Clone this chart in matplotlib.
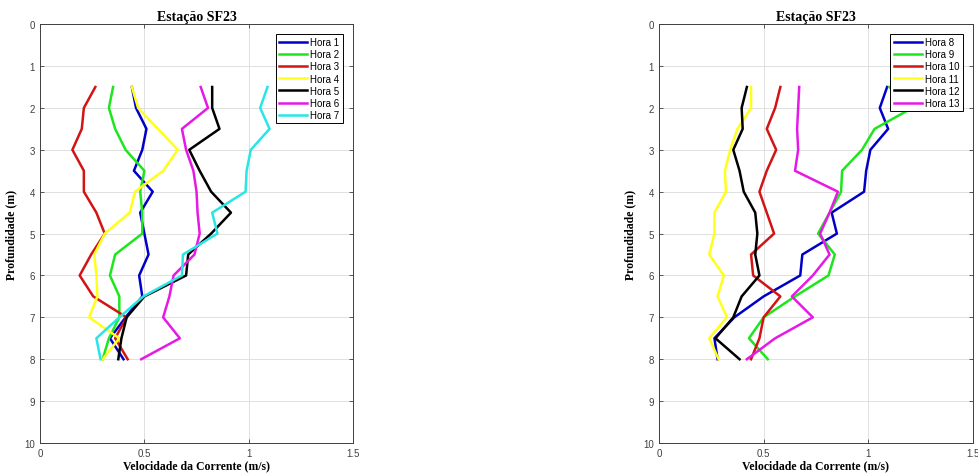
import numpy as np
import matplotlib.pyplot as plt

# profundidades (m)
prof = [1.5, 2.0, 2.5, 3.0, 3.5, 4.0, 4.5, 5.0, 5.5, 6.0, 6.5, 7.0, 7.5, 8.0]

# velocidades (m/s)
hora1 = [0.44, 0.46, 0.51, 0.49, 0.45, 0.54, 0.48, 0.50, 0.52, 0.475, 0.49, 0.41, 0.335, 0.40]
hora2 = [0.35, 0.33, 0.36, 0.41, 0.50, 0.48, 0.49, 0.49, 0.36, 0.335, 0.38, 0.38, 0.33, 0.30]
hora3 = [0.265, 0.21, 0.20, 0.155, 0.21, 0.21, 0.27, 0.31, 0.245, 0.19, 0.255, 0.415, 0.36, 0.42]
hora4 = [0.44, 0.47, 0.565, 0.66, 0.59, 0.455, 0.43, 0.31, 0.26, 0.27, 0.275, 0.235, 0.38, 0.30]
hora5 = [0.825, 0.825, 0.86, 0.715, 0.765, 0.82, 0.915, 0.82, 0.71, 0.70, 0.50, 0.415, 0.39, 0.375]
hora6 = [0.77, 0.805, 0.68, 0.70, 0.735, 0.75, 0.755, 0.765, 0.74, 0.64, 0.62, 0.59, 0.67, 0.485]
hora7 = [1.09, 1.055, 1.10, 1.01, 0.99, 0.985, 0.825, 0.85, 0.685, 0.68, 0.495, 0.38, 0.27, 0.29]

hora8 = [1.09, 1.055, 1.095, 1.01, 0.99, 0.98, 0.825, 0.85, 0.685, 0.675, 0.50, 0.36, 0.265, 0.28]
hora9 = [1.10, 1.21, 1.03, 0.97, 0.875, 0.87, 0.815, 0.76, 0.84, 0.81, 0.65, 0.50, 0.43, 0.52]
hora10 = [0.58, 0.555, 0.515, 0.56, 0.515, 0.48, 0.515, 0.55, 0.44, 0.45, 0.58, 0.50, 0.48, 0.44]
hora11 = [0.44, 0.44, 0.375, 0.34, 0.315, 0.32, 0.265, 0.265, 0.24, 0.31, 0.28, 0.325, 0.24, 0.285]
hora12 = [0.42, 0.395, 0.40, 0.355, 0.385, 0.405, 0.46, 0.47, 0.46, 0.48, 0.395, 0.355, 0.27, 0.385]
hora13 = [0.67, 0.665, 0.66, 0.665, 0.65, 0.855, 0.815, 0.77, 0.815, 0.735, 0.635, 0.735, 0.555, 0.42]

cores = ['#0000c8', '#1ee61e', '#d21414', '#ffff1e', '#000000', '#e619e6', '#28e6e6']

serif = 'Liberation Serif'
sans = 'Liberation Sans'


def painel(ax, series, nomes):
    for v, nome, c in zip(series, nomes, cores):
        ax.plot(v, prof, color=c, lw=1.8, label=nome)
    ax.set_xlim(0, 1.5)
    ax.set_ylim(10, 0)
    ax.set_xticks([0, 0.5, 1, 1.5])
    ax.set_xticklabels(['0', '0.5', '1', '1.5'])
    ax.set_yticks(range(11))
    ax.grid(True, color='#e0e0e0', lw=0.7)
    ax.set_axisbelow(True)
    ax.tick_params(direction='in', top=True, right=True, length=3,
                   labelsize=7, colors='#404040', width=0.6)
    for lb in ax.get_xticklabels() + ax.get_yticklabels():
        lb.set_fontfamily(sans)
    for s in ax.spines.values():
        s.set_color('#404040')
        s.set_linewidth(0.7)
    ax.set_title('Estação SF23', fontfamily=serif, fontweight='bold', fontsize=10, pad=3)
    ax.set_xlabel('Velocidade da Corrente (m/s)', fontfamily=serif, fontweight='bold',
                  fontsize=8.5, labelpad=1)
    ax.set_ylabel('Profundidade (m)', fontfamily=serif, fontweight='bold',
                  fontsize=8.5, labelpad=5)
    leg = ax.legend(loc='upper right', bbox_to_anchor=(0.968, 0.977), prop={'family': sans, 'size': 7},
                    fancybox=False, framealpha=1, edgecolor='black', handlelength=2.9,
                    handletextpad=0.3, labelspacing=0.22, borderpad=0.35, borderaxespad=0)
    leg.get_frame().set_linewidth(0.7)


fig = plt.figure(figsize=(9.79, 4.77), dpi=100)
ax1 = fig.add_axes([0.0409, 0.0692, 0.3197, 0.878])
ax2 = fig.add_axes([0.6731, 0.0692, 0.3207, 0.878])

painel(ax1, [hora1, hora2, hora3, hora4, hora5, hora6, hora7],
       ['Hora %d' % i for i in range(1, 8)])
painel(ax2, [hora8, hora9, hora10, hora11, hora12, hora13],
       ['Hora %d' % i for i in range(8, 14)])

fig.savefig('out.png', dpi=100)
